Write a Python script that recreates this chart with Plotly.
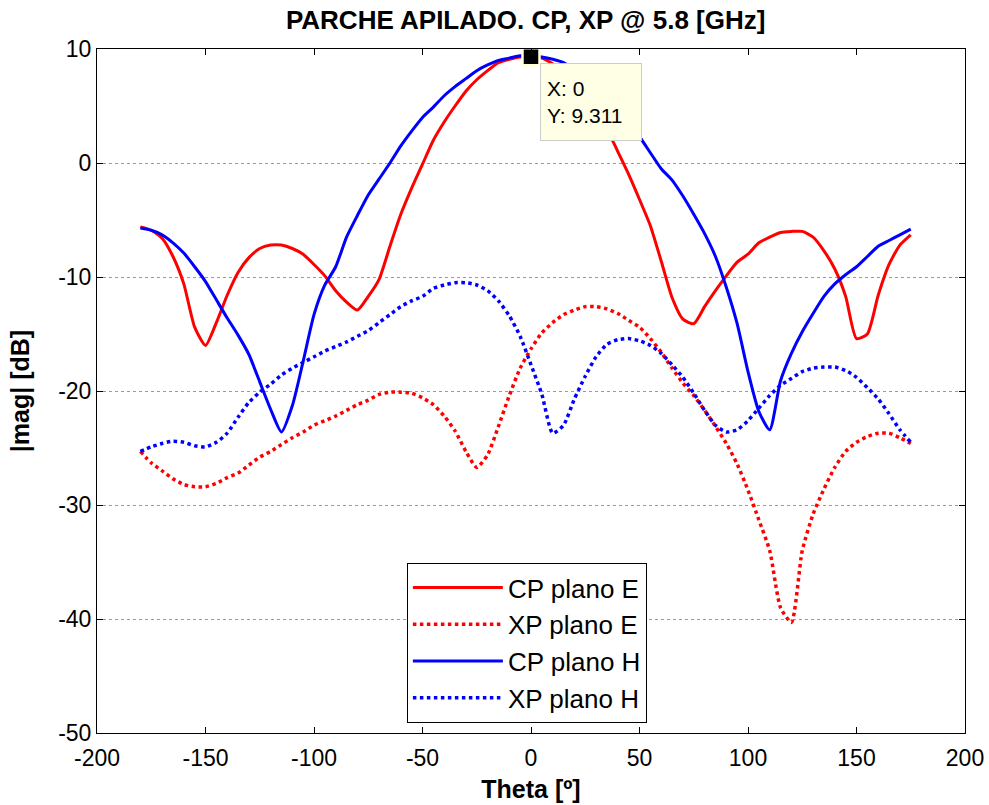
import plotly.graph_objects as go

theta = list(range(-180, 180, 5))

cp_plano_e = [-5.6, -5.9, -6.6, -8.2, -10.6, -14.4, -16.0, -14.0, -11.6, -9.6,
              -8.3, -7.5, -7.2, -7.2, -7.5, -8.0, -8.9, -9.9, -11.2, -12.2,
              -12.9, -11.7, -10.2, -7.3, -4.5, -2.2, -0.1, 2.0, 3.6, 5.0,
              6.3, 7.3, 8.1, 8.8, 9.1, 9.3, 9.311, 9.2, 8.7, 8.0,
              7.3, 6.2, 4.8, 3.0, 1.0, -1.0, -3.2, -5.5, -8.6, -11.8,
              -13.7, -14.1, -12.6, -11.2, -9.9, -8.7, -8.0, -7.0, -6.5, -6.1,
              -6.0, -6.0, -6.5, -7.7, -9.3, -11.7, -15.4, -15.0, -11.6, -8.9,
              -7.2, -6.3]

xp_plano_e = [-25.3, -26.3, -27.0, -27.7, -28.2, -28.4, -28.4, -28.1, -27.6, -27.2,
              -26.5, -25.8, -25.3, -24.7, -24.1, -23.6, -23.0, -22.6, -22.2, -21.7,
              -21.2, -20.8, -20.3, -20.1, -20.1, -20.2, -20.6, -21.2, -22.2, -23.5,
              -25.3, -26.7, -25.6, -23.1, -20.4, -18.0, -16.3, -14.9, -14.0, -13.3,
              -12.9, -12.6, -12.6, -12.8, -13.2, -13.8, -14.4, -15.4, -16.6, -18.0,
              -19.3, -20.4, -21.7, -23.1, -24.6, -26.4, -28.7, -31.3, -34.0, -39.0,
              -40.3, -34.0, -30.8, -28.6, -26.7, -25.3, -24.5, -24.0, -23.7, -23.7,
              -24.1, -24.6]

cp_plano_h = [-5.7, -5.9, -6.3, -7.0, -7.9, -9.1, -10.4, -12.0, -13.6, -15.1,
              -16.8, -19.2, -21.6, -23.6, -21.3, -17.4, -13.3, -10.7, -9.1, -6.5,
              -4.6, -2.8, -1.4, 0.0, 1.5, 2.8, 4.0, 4.9, 5.9, 6.7,
              7.4, 8.1, 8.6, 9.0, 9.2, 9.4, 9.4, 9.3, 9.1, 8.8,
              8.2, 7.5, 6.6, 5.6, 4.5, 3.4, 2.3, 0.9, -0.5, -1.5,
              -2.9, -4.5, -6.2, -8.2, -10.9, -14.1, -18.3, -21.8, -23.4, -19.1,
              -16.7, -14.8, -13.2, -11.7, -10.6, -9.8, -9.1, -8.2, -7.3, -6.8,
              -6.3, -5.8]

xp_plano_h = [-25.3, -24.9, -24.6, -24.4, -24.5, -24.8, -24.9, -24.5, -23.7, -22.3,
              -21.0, -20.1, -19.4, -18.6, -18.0, -17.5, -17.0, -16.5, -16.1, -15.7,
              -15.2, -14.7, -14.0, -13.3, -12.6, -12.1, -11.7, -11.0, -10.7, -10.5,
              -10.5, -10.7, -11.2, -12.1, -13.4, -15.2, -17.7, -20.3, -23.7, -23.0,
              -20.7, -18.7, -17.0, -15.9, -15.5, -15.4, -15.6, -16.0, -16.7, -17.7,
              -18.8, -20.2, -21.7, -23.0, -23.6, -23.4, -22.6, -21.5, -20.4, -19.5,
              -18.9, -18.3, -18.0, -17.9, -17.9, -18.2, -18.8, -19.7, -20.7, -22.0,
              -23.4, -24.5]

x_ticks = [-200, -150, -100, -50, 0, 50, 100, 150, 200]
x_tick_labels = ["-200", "-150", "-100", "-50", "0", "50", "100", "150", "200"]
y_ticks = [-50, -40, -30, -20, -10, 0, 10]
y_tick_labels = ["-50", "-40", "-30", "-20", "-10", "0", "10"]

datatip_x = 0
datatip_y = 9.311

FONT = "Liberation Sans, Arial, sans-serif"

fig = go.Figure()
series = [
    ("CP plano E", cp_plano_e, "#FF0000", "solid"),
    ("XP plano E", xp_plano_e, "#FF0000", "dot"),
    ("CP plano H", cp_plano_h, "#0000FF", "solid"),
    ("XP plano H", xp_plano_h, "#0000FF", "dot"),
]
for name, vals, color, dash in series:
    fig.add_trace(go.Scatter(
        x=theta, y=vals, name=name, mode="lines",
        line=dict(color=color, width=3.5 if dash == "dot" else 3, dash=dash,
                  shape="spline", smoothing=0.6),
    ))

fig.add_trace(go.Scatter(
    x=[datatip_x], y=[datatip_y], mode="markers", showlegend=False,
    marker=dict(symbol="square", size=17, color="black",
                line=dict(color="#FFFFD8", width=2.5)),
    hoverinfo="skip",
))

fig.add_annotation(
    x=datatip_x, y=datatip_y, xref="x", yref="y",
    text=f"X: {datatip_x}<br>Y: {datatip_y}",
    showarrow=False, xanchor="left", yanchor="top",
    xshift=9, yshift=-6, align="left", valign="middle",
    bgcolor="#FFFFE6", bordercolor="#CCCCCC", borderwidth=1,
    width=88, height=64, borderpad=6,
    font=dict(family=FONT, size=21, color="black"),
)

fig.update_layout(
    width=989, height=805,
    paper_bgcolor="white", plot_bgcolor="white",
    margin=dict(l=97, r=24, t=49, b=72),
    title=dict(text="PARCHE APILADO. CP, XP @ 5.8 [GHz]",
               x=0.5315, xanchor="center", y=0.975, yanchor="middle",
               font=dict(family=FONT, size=26, color="black", weight="bold")),
    font=dict(family=FONT, size=23, color="black"),
    showlegend=True,
    legend=dict(x=0.357, y=0.2485, xanchor="left", yanchor="top",
                bgcolor="white", bordercolor="black", borderwidth=1,
                font=dict(family=FONT, size=26, color="black"),
                itemwidth=90, tracegroupgap=0),
)

fig.update_xaxes(
    range=[-200, 200], tickvals=x_ticks, ticktext=x_tick_labels,
    automargin=False,
    showgrid=False, zeroline=False,
    showline=True, linecolor="black", linewidth=1, mirror="ticks",
    ticks="inside", ticklen=6, tickcolor="black", ticklabelstandoff=4,
    tickfont=dict(family=FONT, size=23, color="black"),
    title=dict(text="Theta [º]", standoff=10,
               font=dict(family=FONT, size=25, color="black", weight="bold")),
)
fig.update_yaxes(
    range=[-50, 10], tickvals=y_ticks, ticktext=y_tick_labels,
    automargin=False,
    showgrid=True, gridcolor="#9a9a9a", gridwidth=1, griddash="dot",
    zeroline=False,
    showline=True, linecolor="black", linewidth=1, mirror="ticks",
    ticks="inside", ticklen=6, tickcolor="black",
    tickfont=dict(family=FONT, size=23, color="black"),
    title=dict(text="|mag| [dB]", standoff=21,
               font=dict(family=FONT, size=25, color="black", weight="bold")),
)

fig.write_html("out.html")
